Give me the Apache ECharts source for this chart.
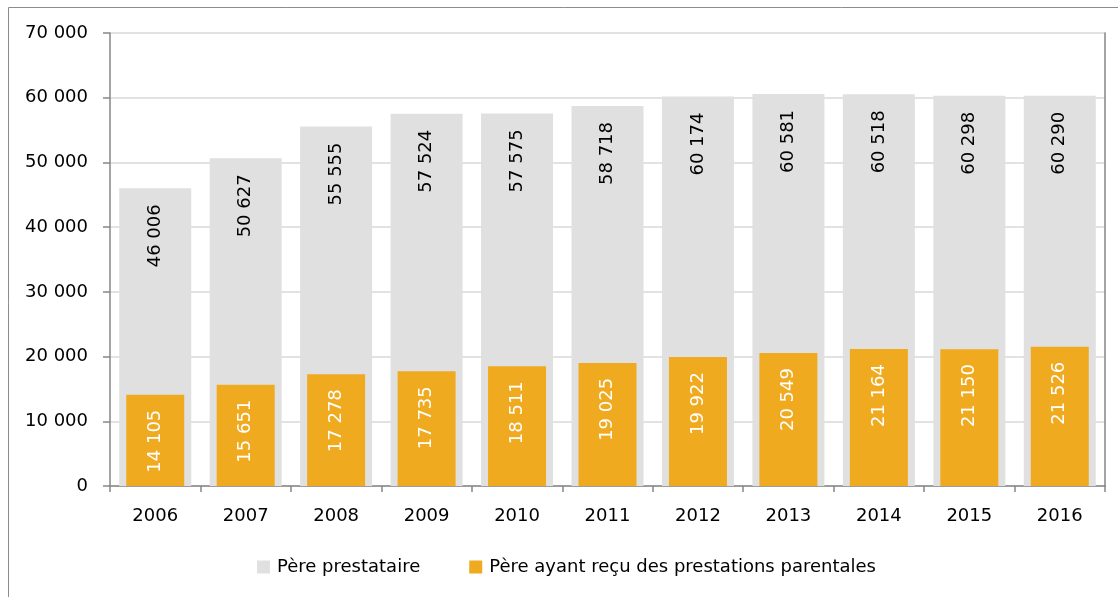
<!DOCTYPE html>
<html><head><meta charset="utf-8">
<script src="https://cdn.jsdelivr.net/npm/echarts@6/dist/echarts.min.js"></script>
<style>html,body{margin:0;padding:0;background:#fff}#c{width:1118px;height:597px}</style>
</head><body><div id="c"></div>
<script>
const years = ['2006','2007','2008','2009','2010','2011','2012','2013','2014','2015','2016'];
const perePrestataire = [46006, 50627, 55555, 57524, 57575, 58718, 60174, 60581, 60518, 60298, 60290];
const pereParental = [14105, 15651, 17278, 17735, 18511, 19025, 19922, 20549, 21164, 21150, 21526];
const seriesNames = ['Père prestataire', 'Père ayant reçu des prestations parentales'];

const fmt = v => String(v).replace(/\B(?=(\d{3})+(?!\d))/g, ' ');
const FONT = 'DejaVu Sans';
const FS = 18;
const chart = echarts.init(document.getElementById('c'));
chart.setOption({
  animation: false,
  textStyle: { fontFamily: FONT },
  graphic: [{ type: 'rect', shape: { x: 8.5, y: 7.5, width: 1300, height: 800 }, style: { fill: 'none', stroke: '#8c8c8c', lineWidth: 1 }, silent: true }],
  grid: { left: 110, right: 13, top: 33, bottom: 111, containLabel: false },
  legend: {
    data: seriesNames, left: 252, top: 553, itemWidth: 13, itemHeight: 13, itemGap: 49,
    icon: 'rect', textStyle: { fontFamily: FONT, fontSize: FS, color: '#000', padding: [0, 0, 0, 2] }
  },
  xAxis: [{
    type: 'category', data: years,
    axisLine: { lineStyle: { color: '#868686', width: 1.5 } },
    axisTick: { show: true, length: 6, lineStyle: { color: '#868686', width: 1.5 } },
    axisLabel: { fontFamily: FONT, fontSize: FS, color: '#000', margin: 21 }
  }, {
    type: 'category', data: years, show: false
  }],
  yAxis: [{
    type: 'value', min: 0, max: 70000, interval: 10000,
    axisLine: { show: true, lineStyle: { color: '#868686', width: 1.5 } },
    axisTick: { show: true, length: 7, lineStyle: { color: '#868686', width: 1.5 } },
    axisLabel: { fontFamily: FONT, fontSize: FS, color: '#000', margin: 22, formatter: fmt },
    splitLine: { lineStyle: { color: '#d9d9d9', width: 1.5 } }
  }, {
    type: 'value', min: 0, max: 70000, interval: 10000, position: 'right',
    axisLine: { show: true, lineStyle: { color: '#868686', width: 1.5 } },
    axisTick: { show: false }, axisLabel: { show: false }, splitLine: { show: false }
  }],
  series: [{
    name: seriesNames[0], type: 'bar', data: perePrestataire, xAxisIndex: 0, barWidth: 72,
    itemStyle: { color: '#e0e0e0' },
    label: { show: true, position: 'insideTop', distance: 16, rotate: 90, align: 'right', verticalAlign: 'middle',
      fontFamily: FONT, fontSize: FS, color: '#000', formatter: p => fmt(p.value) }
  }, {
    name: seriesNames[1], type: 'bar', data: pereParental, xAxisIndex: 1, barWidth: 58,
    itemStyle: { color: '#efaa1f' },
    label: { show: true, position: 'insideTop', distance: 15, rotate: 90, align: 'right', verticalAlign: 'middle',
      fontFamily: FONT, fontSize: FS, color: '#fff', formatter: p => fmt(p.value) }
  }]
});
</script></body></html>
